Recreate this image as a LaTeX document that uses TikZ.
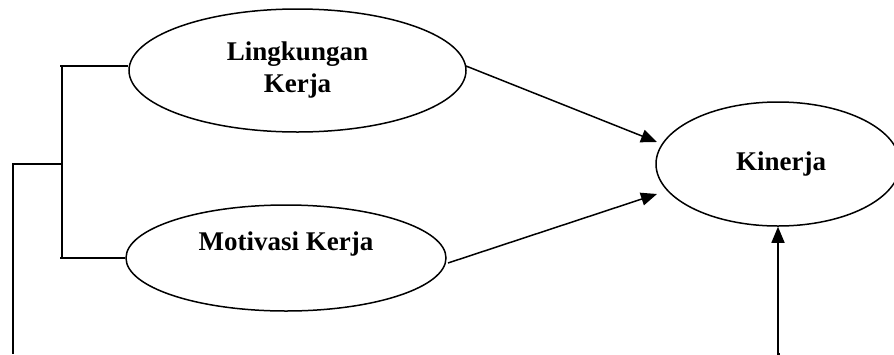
\documentclass[tikz,border=0pt]{standalone}
\usepackage{fontspec}
\setmainfont{Liberation Serif}
\usetikzlibrary{shapes.geometric,arrows.meta}
\begin{document}
\begin{tikzpicture}[x=1pt,y=-1pt,
  oval/.style={draw,ellipse,line width=1.5pt,inner sep=0pt,align=center,
    font=\fontsize{27}{32}\selectfont\bfseries},
  conn/.style={line width=1.5pt},
  arr/.style={line width=1.5pt,-{Triangle[length=16pt,width=13pt]}}]
\useasboundingbox (0,0) rectangle (894,354);
\node[oval,minimum width=337pt,minimum height=123pt] (L) at (297.5,70.5) {Lingkungan\\Kerja};
\node[oval,minimum width=320pt,minimum height=106pt] (M) at (286,258) {Motivasi Kerja\\[-8pt]\strut};
\node[oval,minimum width=244pt,minimum height=124pt] (K) at (778,164) {\hspace*{6pt}Kinerja};
\coordinate (jt) at (62,66);
\coordinate (jb) at (62,258);
\coordinate (jm) at (62,164);
\coordinate (fe) at (13,354);
\coordinate (fk) at (780,354);
\coordinate (a1s) at (466,66);
\coordinate (a1e) at (657,142);
\coordinate (a2s) at (448,263);
\coordinate (a2e) at (657,194);
\draw[conn] (L.west |- jt) -- ([xshift=-2pt]jt) (jt) -- (jb) ([xshift=-2pt]jb) -- (M.west);
\draw[conn] (jm) -| (fe);
\draw[arr] (a1s) -- (a1e);
\draw[arr] (a2s) -- (a2e);
\draw[arr] (fk) -- (K.south |- fk) -- (K.south);
\end{tikzpicture}
\end{document}
